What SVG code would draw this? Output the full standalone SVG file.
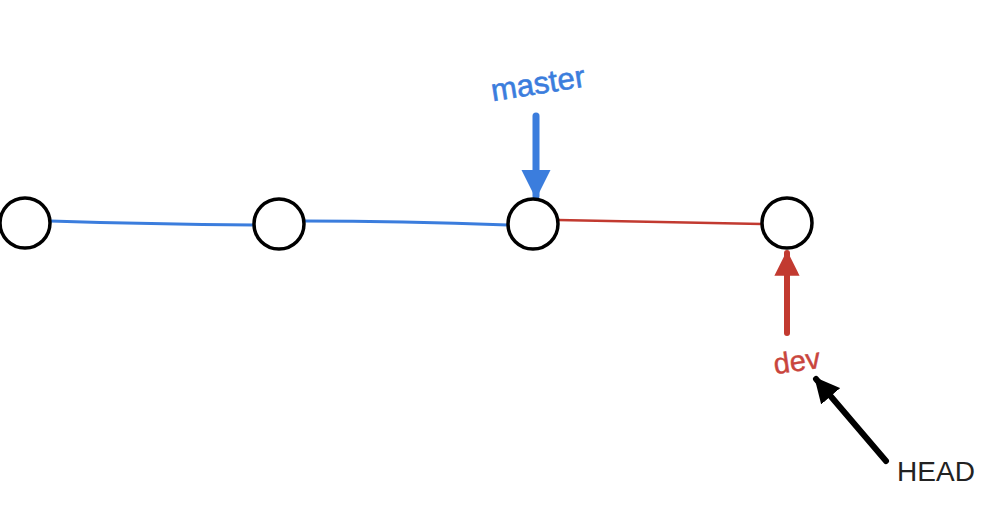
<svg xmlns="http://www.w3.org/2000/svg" width="996" height="520" viewBox="0 0 996 520">
<style>
.c{fill:#fff;stroke:#000;stroke-width:3.5}
.bl{fill:none;stroke:#3b7ddd;stroke-width:3;stroke-linecap:round}
.rl{fill:none;stroke:#c23a30;stroke-width:2.5;stroke-linecap:round}
.t{font-family:"Liberation Sans",Arial,sans-serif}
</style>
<defs>
<marker id="hb" viewBox="0 0 10 10" refX="9" refY="5" markerWidth="4.2" markerHeight="4.2" orient="auto"><path d="M0,0L10,5L0,10z" fill="#3b7ddd"/></marker>
<marker id="hr" viewBox="0 0 10 10" refX="9" refY="5" markerWidth="4.2" markerHeight="4.2" orient="auto"><path d="M0,0L10,5L0,10z" fill="#c23a30"/></marker>
<marker id="hk" viewBox="0 0 10 10" refX="9" refY="5" markerWidth="4.2" markerHeight="4.2" orient="auto"><path d="M0,0L10,5L0,10z" fill="#000"/></marker>
</defs>
<g id="connectors">
<path class="bl" d="M50,221 Q150,224 254,225"/>
<path class="bl" d="M304,221 Q400,221 508,225"/>
<path class="rl" d="M558,220 Q650,222 762,224"/>
<line x1="536" y1="116" x2="536" y2="196" stroke="#3b7ddd" stroke-width="7" stroke-linecap="round" marker-end="url(#hb)"/>
<line x1="787" y1="333" x2="787" y2="253" stroke="#c23a30" stroke-width="6" stroke-linecap="round" marker-end="url(#hr)"/>
<line x1="886" y1="461" x2="816" y2="379" stroke="#000" stroke-width="6" stroke-linecap="round" marker-end="url(#hk)"/>
</g>
<g id="n1"><circle class="c" cx="25" cy="223" r="25"/></g>
<g id="n2"><circle class="c" cx="279" cy="224" r="25"/></g>
<g id="n3"><circle class="c" cx="533" cy="224" r="25"/></g>
<g id="n4"><circle class="c" cx="787" cy="223" r="25"/></g>
<g id="master"><text class="t" x="538" y="94" font-size="31" fill="#3b7ddd" stroke="#3b7ddd" stroke-width="0.6" text-anchor="middle" transform="rotate(-9 538 84)">master</text></g>
<g id="dev"><text class="t" x="797" y="371" font-size="29" fill="#c9453d" stroke="#c9453d" stroke-width="0.4" text-anchor="middle" transform="rotate(-8 797 362)">dev</text></g>
<g id="head"><text class="t" x="936" y="481" font-size="28" fill="#222" text-anchor="middle">HEAD</text></g>
</svg>
